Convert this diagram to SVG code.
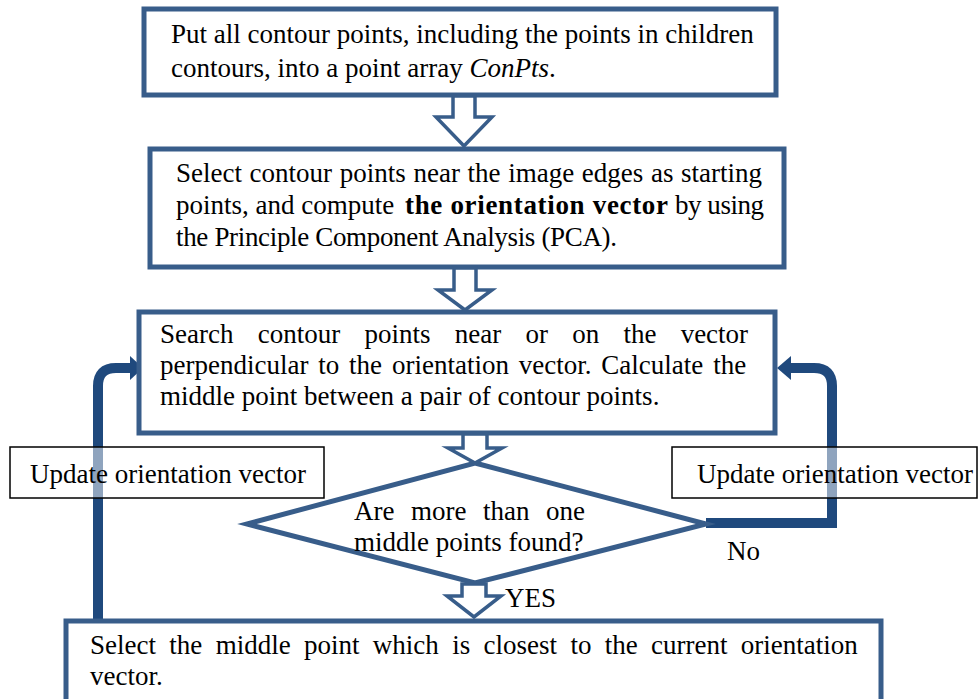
<svg xmlns="http://www.w3.org/2000/svg" width="979" height="699" viewBox="0 0 979 699">
  <style>
    .box { fill: #ffffff; stroke: #385D8A; stroke-width: 5; }
    .dec { fill: #ffffff; stroke: #385D8A; stroke-width: 5; stroke-linejoin: miter; }
    .hollow { fill: #ffffff; stroke: #385D8A; stroke-width: 3.5; stroke-linejoin: miter; }
    .loop { fill: none; stroke: #1F497D; stroke-width: 10; stroke-linejoin: miter; }
    .head { fill: #1F497D; }
    .lbl { fill: #ffffff; fill-opacity: 0.5; stroke: #000000; stroke-width: 1.5; }
    .t { font-family: "Liberation Serif", serif; font-size: 27px; fill: #000000; }
    .b { font-weight: bold; }
    .i { font-style: italic; }
  </style>

  <!-- feedback loops -->
  <g id="connectors">
    <path class="loop" d="M 98 621 V 386 Q 98 368 116 368 H 131"/>
    <polygon class="head" points="130,356 143,368 130,380"/>
    <path class="loop" d="M 706 523 H 832 V 386 Q 832 368 814 368 H 790"/>
    <polygon class="head" points="791,356 777,368 791,380"/>
  </g>

  <g id="step1">
    <rect class="box" x="144" y="9" width="632" height="86"/>
    <text class="t" x="171" y="43">Put all contour points, including the points in children</text>
    <text class="t" x="171" y="77">contours, into a point array <tspan class="i">ConPts</tspan>.</text>
  </g>

  <g id="step2">
    <rect class="box" x="150" y="149" width="634" height="118"/>
    <text class="t" x="176" y="182" word-spacing="0.9">Select contour points near the image edges as starting</text>
    <text class="t" x="176" y="214">points, and compute <tspan class="b" x="405" textLength="263">the orientation vector</tspan><tspan x="675" textLength="89">by using</tspan></text>
    <text class="t" x="176" y="246" textLength="441">the Principle Component Analysis (PCA).</text>
  </g>

  <g id="step3">
    <rect class="box" x="139" y="312" width="636" height="121"/>
    <text class="t" x="160" y="343" word-spacing="17.5">Search contour points near or on the vector</text>
    <text class="t" x="160" y="374" word-spacing="3.1">perpendicular to the orientation vector. Calculate the</text>
    <text class="t" x="160" y="405">middle point between a pair of contour points.</text>
  </g>

  <g id="decision">
    <polygon class="dec" points="475,463 706,524 475,583 247,524"/>
    <text class="t" x="354" y="520" word-spacing="9.8">Are more than one</text>
    <text class="t" x="354" y="551">middle points found?</text>
  </g>

  <g id="step4">
    <rect class="box" x="66" y="621" width="815" height="100"/>
    <text class="t" x="90" y="654" word-spacing="6.6">Select the middle point which is closest to the current orientation</text>
    <text class="t" x="90" y="685">vector.</text>
  </g>

  <!-- flow arrows between steps -->
  <g id="flow-arrows">
    <polygon class="hollow" points="453,96 475,96 475,117 492,117 464,146 436,117 453,117"/>
    <polygon class="hollow" points="454,268 476,268 476,290 492,290 465,310 438,290 454,290"/>
    <polygon class="hollow" points="463,434 487,434 487,448 502,448 475,463 448,448 463,448"/>
    <polygon class="hollow" points="462,584 486,584 486,596 501,596 474,617 447,596 462,596"/>
  </g>

  <g id="label-left">
    <rect class="lbl" x="10" y="447" width="314" height="51"/>
    <text class="t" x="30" y="483">Update orientation vector</text>
  </g>

  <g id="label-right">
    <rect class="lbl" x="672" y="447" width="305" height="51"/>
    <text class="t" x="697" y="483">Update orientation vector</text>
  </g>

  <g id="branch-labels">
    <text class="t" x="727" y="560">No</text>
    <text class="t" x="505" y="607" font-size="25">YES</text>
  </g>
</svg>
